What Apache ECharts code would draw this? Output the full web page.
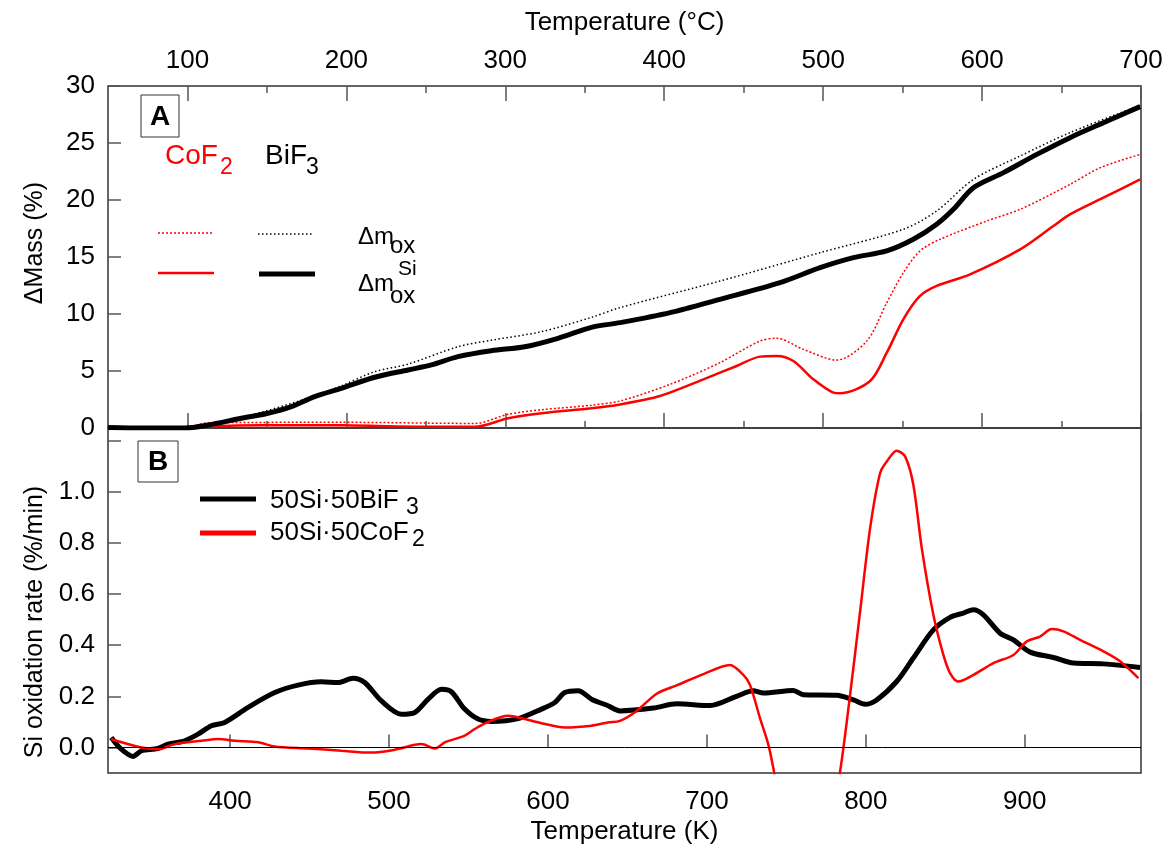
<!DOCTYPE html>
<html>
<head>
<meta charset="utf-8">
<title>Si oxidation</title>
<script src="https://cdn.jsdelivr.net/npm/echarts@6/dist/echarts.min.js"></script>
<style>
  html, body { margin: 0; padding: 0; background: #fff; }
  #chart { width: 1167px; height: 847px; }
</style>
</head>
<body>
<div id="chart"></div>
<script>
// panel A: mass gain (%), x = temperature in K
var bifSi = [[323.2,0.05],[345,0.0],[371.4,0.0],[386.1,0.26],[407,0.85],[423.8,1.29],[438.5,1.87],[453.2,2.75],[470,3.48],[491,4.45],[511.9,5.09],[526.6,5.53],[543.4,6.26],[564.3,6.78],[585.4,7.13],[606.3,7.87],[627.3,8.83],[645.3,9.24],[676.8,10.12],[708.2,11.29],[746,12.75],[771.2,14.06],[792.2,14.94],[813.1,15.53],[829.9,16.55],[844.6,17.87],[855.1,19.18],[867.7,21.08],[886.6,22.4],[907.6,24.0],[928.5,25.47],[949.5,26.78],[972.6,28.19]];
var bifOx = [[323.2,0.05],[371.4,0.0],[407,0.9],[453.2,2.8],[470,3.7],[491,4.94],[511.9,5.6],[543.4,7.13],[564.3,7.7],[595.9,8.45],[627.3,9.7],[645.3,10.56],[708.2,12.89],[771.2,15.38],[823.6,17.43],[844.6,19.04],[867.7,21.81],[897.1,23.86],[928.5,25.91],[972.6,28.3]];
var cofSi = [[323.2,0.05],[371.4,0.0],[386,0.15],[420,0.25],[470,0.25],[500,0.15],[530,0.1],[554,0.1],[575,0.85],[596,1.29],[627.4,1.73],[645.3,2.07],[670.5,2.81],[697.8,4.27],[718.7,5.44],[733.4,6.26],[743.9,6.32],[754.4,5.88],[767,4.27],[779.6,3.1],[783.8,3.04],[802.7,4.12],[813.2,6.61],[823.6,9.53],[834.1,11.58],[844.6,12.46],[865.6,13.48],[897.1,15.67],[918,17.72],[928.5,18.74],[949.5,20.2],[972.6,21.81]];
var cofOx = [[323.2,0.05],[371.4,0.05],[386,0.45],[470,0.5],[554,0.4],[575,1.2],[596,1.6],[627.4,2.0],[645.3,2.37],[676.8,3.83],[708.2,5.73],[733.4,7.63],[743.9,7.87],[760.7,6.9],[781.7,5.96],[800.6,7.63],[813.2,10.99],[823.6,13.62],[834.1,15.53],[846.7,16.55],[876.1,18.16],[897.1,19.18],[928.5,21.37],[947.4,22.83],[972.6,24.0]];

// panel B: Si oxidation rate (%/min)
var bifRate = [[325.2,0.039],[331.5,-0.007],[338.9,-0.035],[344.1,-0.013],[354.6,-0.004],[360.9,0.013],[371.4,0.026],[379.8,0.052],[388.2,0.085],[396.6,0.098],[411.3,0.157],[428.1,0.215],[442.7,0.244],[457.4,0.257],[467.9,0.254],[477.4,0.271],[484.7,0.254],[495.2,0.182],[507.8,0.13],[516.2,0.137],[524.6,0.189],[533,0.228],[539.2,0.218],[547.6,0.15],[556,0.111],[564.4,0.102],[581.2,0.113],[595.9,0.15],[604.3,0.176],[610.6,0.215],[619,0.222],[627.4,0.189],[637.8,0.163],[645.3,0.143],[666.3,0.154],[681,0.171],[702,0.164],[718.7,0.2],[729.2,0.222],[735.5,0.213],[754.4,0.223],[760.7,0.206],[781.7,0.204],[792.2,0.186],[799.5,0.169],[806.8,0.186],[819.4,0.258],[829.9,0.35],[842.5,0.46],[853,0.509],[861.4,0.526],[867.7,0.539],[874,0.519],[884.5,0.447],[892.9,0.421],[903.4,0.373],[918,0.352],[930.6,0.33],[949.5,0.327],[972.6,0.313]];
var cofRate = [[325.2,0.032],[344.1,0.0],[354.6,-0.007],[365.1,0.013],[381.9,0.026],[392.4,0.033],[402.9,0.026],[417.6,0.02],[428.1,0.004],[449,-0.004],[470,-0.013],[488.9,-0.02],[503.6,-0.009],[520.4,0.013],[528.8,-0.004],[535.1,0.02],[547.6,0.046],[553.9,0.072],[562.3,0.1],[574.9,0.124],[585.4,0.111],[595.9,0.095],[610.6,0.078],[627.4,0.085],[637.8,0.098],[645.3,0.104],[655.8,0.143],[668.4,0.21],[681,0.243],[697.8,0.287],[714.5,0.323],[722.9,0.284],[727.1,0.245],[733.4,0.115],[738.7,0.01],[742.2,-0.094],[750,-0.35],[763,-0.55],[776,-0.35],[783.8,-0.094],[790.1,0.206],[796.4,0.532],[802.7,0.858],[809,1.074],[813.2,1.119],[819.4,1.161],[824.7,1.139],[829.9,1.028],[835.2,0.78],[842.5,0.519],[848.8,0.362],[853,0.291],[858.2,0.258],[867.7,0.284],[880.3,0.33],[892.9,0.362],[901.3,0.415],[909.6,0.434],[917,0.463],[924.3,0.454],[934.8,0.421],[949.5,0.376],[960,0.337],[971.5,0.271]];

// ticks
var celsiusMajor = [100, 200, 300, 400, 500, 600, 700];
var celsiusMinor = [150, 250, 350, 450, 550, 650];
var kelvinTicks = [400, 500, 600, 700, 800, 900];
var massTicks = [0, 5, 10, 15, 20, 25, 30];
var rateTicks = [0, 0.2, 0.4, 0.6, 0.8, 1.0, 1.2];
var rateLabels = [0, 0.2, 0.4, 0.6, 0.8, 1.0];

var FONT = 'Liberation Sans, Arial, Helvetica, sans-serif';
var RED = '#ff0000';
var AXC = '#333';

var chart = echarts.init(document.getElementById('chart'));

function tickAxis(opt) {
	// plain value axis with inward ticks
	return Object.assign({
		type: 'value',
		splitLine: { show: false },
		axisLine: { show: false },
		axisLabel: { show: false },
		axisTick: { show: false }
	}, opt);
}

function txt(s, x, y, size, color, extra) {
	return Object.assign({
		type: 'text', x: x, y: y, z: 100,
		style: {
			text: s, fill: color || '#000',
			font: (size || 26) + 'px ' + FONT,
			textAlign: 'left', align: 'left',
			textVerticalAlign: 'middle', verticalAlign: 'middle'
		}
	}, extra || {});
}

function seg(x1, y1, x2, y2, color, w, dash) {
	return {
		type: 'line', z: 100,
		shape: { x1: x1, y1: y1, x2: x2, y2: y2 },
		style: { stroke: color, lineWidth: w, lineDash: dash || null }
	};
}

var labelStyle = { color: '#000', fontSize: 26, fontFamily: FONT };

chart.setOption({
	backgroundColor: '#fff',
	animation: false,
	grid: [
		{ left: 108, top: 86, width: 1033, height: 342, show: true, borderColor: AXC, borderWidth: 1.5 },
		{ left: 108, top: 428, width: 1033, height: 345, show: true, borderColor: AXC, borderWidth: 1.5 }
	],
	xAxis: [
		// 0: hidden kelvin axis for panel A
		tickAxis({ gridIndex: 0, min: 323.15, max: 973.15, show: false }),
		// 1: celsius on top, labels + major ticks
		tickAxis({
			gridIndex: 0, position: 'top', min: 50, max: 700,
			name: 'Temperature (°C)', nameLocation: 'middle', nameGap: 50,
			nameTextStyle: { color: '#000', fontSize: 26, fontFamily: FONT },
			axisTick: { show: true, inside: true, length: 15, customValues: celsiusMajor, lineStyle: { color: '#555', width: 1.5 } },
			axisLabel: Object.assign({ show: true, margin: 12, customValues: celsiusMajor }, labelStyle)
		}),
		// 2: celsius top minor
		tickAxis({
			gridIndex: 0, position: 'top', min: 50, max: 700,
			axisTick: { show: true, inside: true, length: 7, customValues: celsiusMinor, lineStyle: { color: '#555', width: 1.5 } }
		}),
		// 3: celsius bottom of A (major)
		tickAxis({
			gridIndex: 0, position: 'bottom', min: 50, max: 700,
			axisTick: { show: true, inside: true, length: 15, customValues: celsiusMajor, lineStyle: { color: '#555', width: 1.5 } }
		}),
		// 4: celsius bottom of A (minor)
		tickAxis({
			gridIndex: 0, position: 'bottom', min: 50, max: 700,
			axisTick: { show: true, inside: true, length: 7, customValues: celsiusMinor, lineStyle: { color: '#555', width: 1.5 } }
		}),
		// 5: kelvin, panel B
		tickAxis({
			gridIndex: 1, position: 'bottom', min: 323.15, max: 973.15,
			name: 'Temperature (K)', nameLocation: 'middle', nameGap: 46,
			nameTextStyle: { color: '#000', fontSize: 26, fontFamily: FONT },
			axisTick: { show: true, inside: true, length: 13, customValues: kelvinTicks, lineStyle: { color: '#555', width: 1.5 } },
			axisLabel: Object.assign({ show: true, margin: 16, customValues: kelvinTicks }, labelStyle)
		})
	],
	yAxis: [
		tickAxis({
			gridIndex: 0, min: 0, max: 30, interval: 5,
			axisTick: { show: true, inside: true, length: 13, customValues: massTicks, lineStyle: { color: '#555', width: 1.5 } },
			axisLabel: Object.assign({ show: true, margin: 13, customValues: massTicks }, labelStyle)
		}),
		tickAxis({
			gridIndex: 1, min: -0.1, max: 1.25,
			axisTick: { show: true, inside: true, length: 13, customValues: rateTicks, lineStyle: { color: '#555', width: 1.5 } },
			axisLabel: Object.assign({
				show: true, margin: 13, customValues: rateLabels,
				formatter: function (v) { return Number(v).toFixed(1); }
			}, labelStyle)
		})
	],
	series: [
		{ type: 'line', name: 'CoF2 dm_ox', xAxisIndex: 0, yAxisIndex: 0, data: cofOx, showSymbol: false, smooth: 0.3,
			lineStyle: { color: RED, width: 1.5, type: [2, 2] } },
		{ type: 'line', name: 'BiF3 dm_ox', xAxisIndex: 0, yAxisIndex: 0, data: bifOx, showSymbol: false, smooth: 0.3,
			lineStyle: { color: '#000', width: 1.5, type: [1.5, 2.5] } },
		{ type: 'line', name: 'CoF2 dm_ox_Si', xAxisIndex: 0, yAxisIndex: 0, data: cofSi, showSymbol: false, smooth: 0.3,
			lineStyle: { color: RED, width: 2.5 } },
		{ type: 'line', name: 'BiF3 dm_ox_Si', xAxisIndex: 0, yAxisIndex: 0, data: bifSi, showSymbol: false, smooth: 0.3,
			lineStyle: { color: '#000', width: 5 } },
		{ type: 'line', name: '50Si·50BiF3', xAxisIndex: 5, yAxisIndex: 1, data: bifRate, showSymbol: false, smooth: 0.3,
			lineStyle: { color: '#000', width: 5 },
			markLine: { silent: true, symbol: 'none', label: { show: false }, lineStyle: { color: '#000', width: 1, type: 'solid' }, data: [{ yAxis: 0 }] } },
		{ type: 'line', name: '50Si·50CoF2', xAxisIndex: 5, yAxisIndex: 1, data: cofRate, showSymbol: false, smooth: 0.3,
			lineStyle: { color: RED, width: 2.5 } }
	],
	graphic: [
		// axis titles on the left
		txt('ΔMass (%)', 35, 243, 25, '#000', { rotation: Math.PI / 2, style: { text: 'ΔMass (%)', fill: '#000', font: '25px ' + FONT, textAlign: 'center', align: 'center', textVerticalAlign: 'middle', verticalAlign: 'middle' } }),
		txt('Si oxidation rate (%/min)', 35, 622, 25, '#000', { rotation: Math.PI / 2, style: { text: 'Si oxidation rate (%/min)', fill: '#000', font: '25px ' + FONT, textAlign: 'center', align: 'center', textVerticalAlign: 'middle', verticalAlign: 'middle' } }),
		// panel letters
		{ type: 'rect', z: 99, shape: { x: 141, y: 95, width: 38, height: 42 }, style: { fill: '#fff', stroke: AXC, lineWidth: 1 } },
		txt('A', 160, 117, 28, '#000', { style: { text: 'A', fill: '#000', font: 'bold 28px ' + FONT, textAlign: 'center', align: 'center', textVerticalAlign: 'middle', verticalAlign: 'middle' } }),
		{ type: 'rect', z: 99, shape: { x: 138, y: 441, width: 40, height: 41 }, style: { fill: '#fff', stroke: AXC, lineWidth: 1 } },
		txt('B', 158, 462, 28, '#000', { style: { text: 'B', fill: '#000', font: 'bold 28px ' + FONT, textAlign: 'center', align: 'center', textVerticalAlign: 'middle', verticalAlign: 'middle' } }),
		// panel A legend
		txt('CoF', 165, 156, 28, RED),
		txt('2', 220, 168, 23, RED),
		txt('BiF', 265, 156, 28, '#000'),
		txt('3', 306, 168, 23, '#000'),
		seg(158, 233, 212, 233, RED, 1.5, [2, 2]),
		seg(258, 234, 312, 234, '#000', 1.5, [1.5, 2.5]),
		seg(158, 273, 214, 273, RED, 2.5),
		seg(259, 274, 315, 274, '#000', 5),
		txt('Δm', 358, 237, 24, '#000'),
		txt('ox', 390, 246, 24, '#000'),
		txt('Si', 398, 269, 21, '#000'),
		txt('Δm', 358, 284, 24, '#000'),
		txt('ox', 390, 296, 24, '#000'),
		// panel B legend
		seg(200, 499, 256, 499, '#000', 5),
		seg(200, 533, 256, 533, RED, 5),
		txt('50Si·50BiF', 270, 501, 26, '#000'),
		txt('3', 406, 508, 23, '#000'),
		txt('50Si·50CoF', 270, 533, 26, '#000'),
		txt('2', 412, 540, 23, '#000')
	]
});
</script>
</body>
</html>
